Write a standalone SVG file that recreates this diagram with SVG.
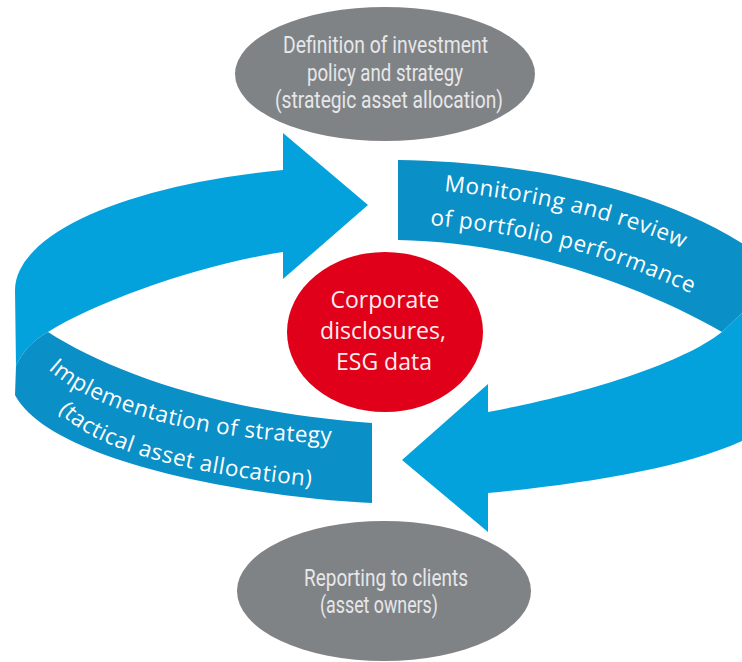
<svg xmlns="http://www.w3.org/2000/svg" width="742" height="662" viewBox="0 0 742 662">
  <style>
    .light { fill: #03a2dd; }
    .dark { fill: #0a8fc7; }
    .gray { fill: #808386; }
    .red { fill: #e1001a; }
    .gtext { font-family: Roboto, "Liberation Sans", sans-serif; font-weight: 400; font-size: 24px; fill: #e6e7e8; text-anchor: middle; }
    .rtext { font-family: "Open Sans", "Liberation Sans", sans-serif; font-size: 23px; fill: #fbeeee; text-anchor: middle; }
    .btext { font-family: "Open Sans", "Liberation Sans", sans-serif; font-size: 22.5px; letter-spacing: 0.5px; fill: #ffffff; }
  </style>
  <defs>
    <path id="p-mon1" d="M 444,191 Q 585,205 684,249 L 740,273"/>
    <path id="p-mon2" d="M 430,225 Q 570,236 694,295 L 740,318"/>
    <path id="p-imp1" d="M 48,369 C 100,417 220,442 336,443 L 380,443"/>
    <path id="p-imp2" d="M 58,411 C 100,455 200,475 318,487 L 360,491"/>
  </defs>

  <g id="connectors">
    <path id="arrow-top-left" class="light" d="M 283,170 L 283,133 L 368,205 L 283,279 L 283,252 C 200,265 100,300 48,332 Q 26,344 16,366 L 15,290 A 370 125 0 0 1 283,170 Z"/>
    <path id="band-implementation" class="dark" d="M 48,332 C 110,372 220,412 372,423 L 372,503 C 250,497 50,462 15,395 L 16,366 Q 26,344 48,332 Z"/>
    <path id="band-monitoring" class="dark" d="M 398,160 C 520,162 660,185 760,255 L 760,296 L 722,332 C 640,285 520,242 398,240 Z"/>
    <path id="arrow-bottom-right" class="light" d="M 722,332 L 760,296 L 760,432 C 700,465 600,482 488,493 L 488,532 L 402,460 L 488,384 L 488,412 C 580,395 680,365 722,332 Z"/>
    <text class="btext"><textPath href="#p-mon1">Monitoring and review</textPath></text>
    <text class="btext"><textPath href="#p-mon2">of portfolio performance</textPath></text>
    <text class="btext"><textPath href="#p-imp1">Implementation of strategy</textPath></text>
    <text class="btext"><textPath href="#p-imp2">(tactical asset allocation)</textPath></text>
  </g>

  <g id="node-definition">
    <ellipse class="gray" cx="385" cy="74" rx="150" ry="67"/>
    <text class="gtext" x="385.5" y="53" textLength="205" lengthAdjust="spacingAndGlyphs">Definition of investment</text>
    <text class="gtext" x="385" y="81" textLength="156" lengthAdjust="spacingAndGlyphs">policy and strategy</text>
    <text class="gtext" x="389" y="108" textLength="228" lengthAdjust="spacingAndGlyphs">(strategic asset allocation)</text>
  </g>

  <g id="node-core">
    <ellipse class="red" cx="385" cy="332" rx="98" ry="80"/>
    <text class="rtext" x="385" y="308">Corporate</text>
    <text class="rtext" x="383" y="339">disclosures,</text>
    <text class="rtext" x="384" y="370">ESG data</text>
  </g>

  <g id="node-reporting">
    <ellipse class="gray" cx="384" cy="591" rx="147" ry="70"/>
    <text class="gtext" x="386" y="586" textLength="164" lengthAdjust="spacingAndGlyphs">Reporting to clients</text>
    <text class="gtext" x="379" y="613" textLength="118" lengthAdjust="spacingAndGlyphs">(asset owners)</text>
  </g>
</svg>
